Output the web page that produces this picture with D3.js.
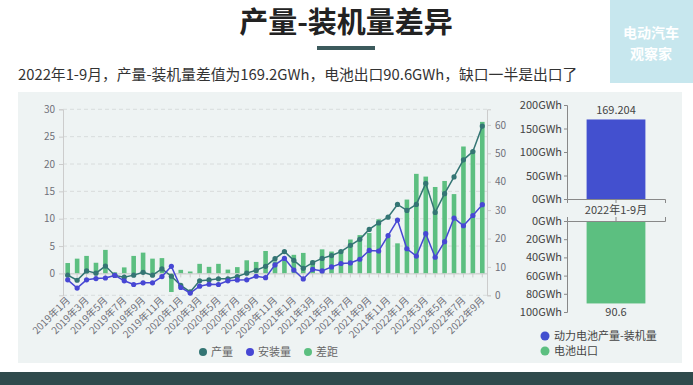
<!DOCTYPE html>
<html>
<head>
<meta charset="utf-8">
<script src="https://cdn.jsdelivr.net/npm/d3@7"></script>
<style>
  body { margin: 0; background: #fff; font-family: "Noto Sans CJK SC", "Noto Sans", sans-serif; }
  svg text { font-family: "Noto Sans CJK SC", "Noto Sans", sans-serif; }
</style>
</head>
<body>
<svg id="chart" width="693" height="385"></svg>
<script>
'use strict';

var months = ['2019年1月','2019年2月','2019年3月','2019年4月','2019年5月','2019年6月','2019年7月','2019年8月','2019年9月','2019年10月','2019年11月','2019年12月',
  '2020年1月','2020年2月','2020年3月','2020年4月','2020年5月','2020年6月','2020年7月','2020年8月','2020年9月','2020年10月','2020年11月','2020年12月',
  '2021年1月','2021年2月','2021年3月','2021年4月','2021年5月','2021年6月','2021年7月','2021年8月','2021年9月','2021年10月','2021年11月','2021年12月',
  '2022年1月','2022年2月','2022年3月','2022年4月','2022年5月','2022年6月','2022年7月','2022年8月','2022年9月'];
var production = [7.1,5.3,8.6,7.8,10.3,7.0,6.4,7.1,8.1,7.1,9.3,6.7,
  3.5,1.2,5.1,5.4,5.8,5.8,6.6,7.8,8.8,10.2,12.9,15.4,
  12.3,9.5,11.5,13.0,14.0,15.4,17.6,19.7,23.2,25.5,27.5,32.0,
  29.9,32.0,39.4,29.2,35.8,41.7,47.7,50.6,59.6];
var installed = [5.45,2.55,5.45,5.9,6.1,7.0,5.1,3.8,4.4,4.4,6.6,10.2,
  2.75,0.8,3.2,3.9,3.8,5.1,5.4,5.45,6.7,6.2,10.7,13.0,
  8.9,5.75,9.15,8.6,10.0,11.2,11.4,12.7,15.8,15.6,21.0,26.5,
  16.4,13.8,21.7,13.4,18.9,27.2,24.5,28.1,31.9];
var gap = [1.9,2.7,3.2,1.95,4.3,0.2,1.1,3.2,3.8,2.7,2.8,-3.4,
  0.65,0.35,1.75,1.2,1.75,0.7,1.15,2.4,2.1,4.1,2.2,2.4,
  3.4,3.75,2.35,4.4,4.0,4.2,6.2,7.0,7.4,9.9,6.5,5.5,
  13.5,18.2,17.7,15.8,16.9,14.5,23.2,22.5,27.7];
var leftTicks = [0, 5, 10, 15, 20, 25, 30];
var rightTicks = [0, 10, 20, 30, 40, 50, 60];

var period = ['2022年1-9月'];
var diffTotal = [169.204];
var exportTotal = [90.6];
var topTicks = [0, 50, 100, 150, 200];
var bottomTicks = [0, 20, 40, 60, 80, 100];

var cProd = '#347574', cInst = '#4747d4', cGap = '#5cbf80', cBlue = '#4350cf';

var svg = d3.select('#chart');

// background bits
svg.append('rect').attr('x', 18).attr('y', 92).attr('width', 664).attr('height', 271).attr('fill', '#eef3f3');
svg.append('rect').attr('x', 0).attr('y', 372).attr('width', 693).attr('height', 13).attr('fill', '#2f4a4c');
svg.append('rect').attr('x', 610).attr('y', 0).attr('width', 83).attr('height', 83).attr('fill', '#c7e7ee');
svg.append('text').text('电动汽车').attr('x', 651).attr('y', 38).attr('text-anchor', 'middle')
  .attr('fill', '#fff').style('font-size', '14px').style('font-weight', 'bold');
svg.append('text').text('观察家').attr('x', 651).attr('y', 59).attr('text-anchor', 'middle')
  .attr('fill', '#fff').style('font-size', '14px').style('font-weight', 'bold');

// title
svg.append('text').text('产量-装机量差异').attr('x', 346).attr('y', 33).attr('text-anchor', 'middle')
  .attr('fill', '#222').style('font-size', '29px').style('font-weight', 'bold');
svg.append('rect').attr('x', 317).attr('y', 46).attr('width', 58).attr('height', 4).attr('fill', '#3c5a5c');
svg.append('text').text('2022年1-9月，产量-装机量差值为169.2GWh，电池出口90.6GWh，缺口一半是出口了')
  .attr('x', 18).attr('y', 80).attr('fill', '#333').style('font-size', '14.8px');

// ---- left monthly chart
var x = d3.scaleBand().domain(months).range([63, 487]);
var yL = d3.scaleLinear().domain([-4, 30]).range([295.3, 109.3]);
var yR = d3.scaleLinear().domain([0, 65.5]).range([295.3, 109.3]);
var cx = function (d) { return x(d) + x.bandwidth() / 2; };

svg.append('g').selectAll('line').data(leftTicks.concat([-4])).enter().append('line')
  .attr('x1', 63).attr('x2', 487).attr('y1', function (d) { return yL(d); }).attr('y2', function (d) { return yL(d); })
  .attr('stroke', '#d8dcdc').attr('stroke-dasharray', '4,3');

var axL = svg.append('g').attr('transform', 'translate(63,0)')
  .call(d3.axisLeft(yL).tickValues(leftTicks).tickSize(4).tickPadding(4));
axL.select('.domain').attr('stroke', '#ccc');
axL.selectAll('.tick line').attr('stroke', '#ccc');
axL.selectAll('text').attr('fill', '#6e7079').style('font-size', '10px');

var axR = svg.append('g').attr('transform', 'translate(487,0)')
  .call(d3.axisRight(yR).tickValues(rightTicks).tickSize(4).tickPadding(4));
axR.select('.domain').attr('stroke', '#ccc');
axR.selectAll('.tick line').attr('stroke', '#ccc');
axR.selectAll('text').attr('fill', '#6e7079').style('font-size', '10px');

svg.append('g').selectAll('rect').data(gap).enter().append('rect')
  .attr('x', function (d, i) { return cx(months[i]) - 2.3; })
  .attr('width', 4.6)
  .attr('y', function (d) { return Math.min(yL(d), yL(0)); })
  .attr('height', function (d) { return Math.abs(yL(d) - yL(0)); })
  .attr('fill', cGap);

var axX = svg.append('g').attr('transform', 'translate(0,' + yL(0) + ')')
  .call(d3.axisBottom(x).tickSize(4).tickFormat(''));
axX.select('.domain').attr('stroke', '#ccc');
axX.selectAll('.tick line').attr('stroke', '#ccc');

svg.append('g').selectAll('text').data(months.filter(function (d, i) { return i % 2 === 0; })).enter().append('text')
  .text(function (d) { return d; })
  .attr('transform', function (d) { return 'translate(' + (cx(d) + 3) + ',301) rotate(-45)'; })
  .attr('text-anchor', 'end').attr('fill', '#6e7079').style('font-size', '10px');

function drawLine(vals, color) {
  var line = d3.line().x(function (d, i) { return cx(months[i]); }).y(function (d) { return yR(d); });
  svg.append('path').datum(vals).attr('d', line).attr('fill', 'none').attr('stroke', color).attr('stroke-width', 1.5);
  svg.append('g').selectAll('circle').data(vals).enter().append('circle')
    .attr('cx', function (d, i) { return cx(months[i]); }).attr('cy', function (d) { return yR(d); })
    .attr('r', 2.6).attr('fill', color);
}
drawLine(production, cProd);
drawLine(installed, cInst);

var legL = [['产量', cProd, 203], ['安装量', cInst, 250], ['差距', cGap, 308]];
legL.forEach(function (l) {
  svg.append('circle').attr('cx', l[2]).attr('cy', 352).attr('r', 4).attr('fill', l[1]);
  svg.append('text').text(l[0]).attr('x', l[2] + 8).attr('y', 356).attr('fill', '#666').style('font-size', '11px');
});

// ---- right summary charts
var xs = d3.scaleBand().domain(period).range([567, 665]).padding(0.25);
var yTop = d3.scaleLinear().domain([0, 200]).range([199, 105]);
var yBot = d3.scaleLinear().domain([0, 100]).range([221, 312]);

var axT = svg.append('g').attr('transform', 'translate(567,0)')
  .call(d3.axisLeft(yTop).tickValues(topTicks).tickSize(3).tickPadding(2).tickFormat(function (d) { return d + 'GWh'; }));
var axB = svg.append('g').attr('transform', 'translate(567,0)')
  .call(d3.axisLeft(yBot).tickValues(bottomTicks).tickSize(3).tickPadding(2).tickFormat(function (d) { return d + 'GWh'; }));
[axT, axB].forEach(function (a) {
  a.select('.domain').attr('stroke', '#888');
  a.selectAll('.tick line').attr('stroke', '#888');
  a.selectAll('text').attr('fill', '#444').style('font-size', '11px');
});

svg.selectAll('rect.top').data(diffTotal).enter().append('rect').attr('class', 'top')
  .attr('x', xs(period[0])).attr('width', xs.bandwidth())
  .attr('y', function (d) { return yTop(d); }).attr('height', function (d) { return yTop(0) - yTop(d); })
  .attr('fill', cBlue);
svg.selectAll('rect.bot').data(exportTotal).enter().append('rect').attr('class', 'bot')
  .attr('x', xs(period[0])).attr('width', xs.bandwidth())
  .attr('y', yBot(0)).attr('height', function (d) { return yBot(d) - yBot(0); })
  .attr('fill', cGap);

var axXT = svg.append('g').attr('transform', 'translate(0,' + yTop(0) + ')')
  .call(d3.axisBottom(xs).tickSize(4).tickPadding(3));
axXT.select('.domain').attr('stroke', '#888');
axXT.selectAll('.tick line').attr('stroke', '#888');
axXT.selectAll('text').attr('fill', '#444').style('font-size', '11px');
var axXB = svg.append('g').attr('transform', 'translate(0,' + yBot(0) + ')')
  .call(d3.axisTop(xs).tickSize(4).tickFormat(''));
axXB.select('.domain').attr('stroke', '#888');
axXB.selectAll('.tick line').attr('stroke', '#888');

svg.selectAll('text.vt').data(diffTotal).enter().append('text').attr('class', 'vt')
  .text(function (d) { return d; })
  .attr('x', xs(period[0]) + xs.bandwidth() / 2).attr('y', function (d) { return yTop(d) - 5; })
  .attr('text-anchor', 'middle').attr('fill', '#444').style('font-size', '11px');
svg.selectAll('text.vb').data(exportTotal).enter().append('text').attr('class', 'vb')
  .text(function (d) { return d; })
  .attr('x', xs(period[0]) + xs.bandwidth() / 2).attr('y', function (d) { return yBot(d) + 13; })
  .attr('text-anchor', 'middle').attr('fill', '#444').style('font-size', '11px');

var legR = [['动力电池产量-装机量', cBlue, 336], ['电池出口', cGap, 351]];
legR.forEach(function (l) {
  svg.append('circle').attr('cx', 545).attr('cy', l[2]).attr('r', 4.5).attr('fill', l[1]);
  svg.append('text').text(l[0]).attr('x', 554).attr('y', l[2] + 4).attr('fill', '#444').style('font-size', '11px');
});
</script>
</body>
</html>
